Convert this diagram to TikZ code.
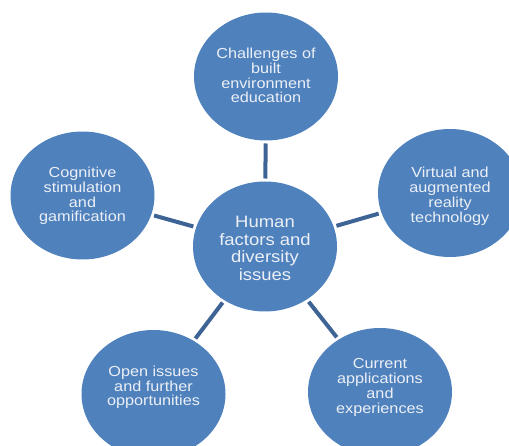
\documentclass[tikz,border=0pt]{standalone}
\usepackage{fontspec}
\setmainfont{Liberation Sans}
\usetikzlibrary{shapes.geometric}
\definecolor{bubble}{RGB}{79,129,189}
\definecolor{link}{RGB}{61,100,148}
\definecolor{txt}{RGB}{236,240,246}
\newcommand{\outertext}[1]{\scalebox{1.12}[1]{\fontsize{14.5pt}{14.7pt}\selectfont\begin{tabular}{@{}c@{}}#1\end{tabular}}}
\newcommand{\centertext}[1]{\scalebox{1.12}[1]{\fontsize{16.5pt}{17.5pt}\selectfont\begin{tabular}{@{}c@{}}#1\end{tabular}}}
\tikzset{
  bubblenode/.style={ellipse, fill=bubble, draw=none, inner sep=0pt, outer sep=0pt,
    minimum width=144pt, minimum height=128pt},
  bubbletext/.style={text=txt, inner sep=0pt, align=center},
  linkline/.style={draw=link, line width=4pt, shorten >=3pt, shorten <=3pt}
}
\setlength{\tabcolsep}{0pt}
\begin{document}
\begin{tikzpicture}[x=1pt,y=1pt]
\useasboundingbox (0,0) rectangle (509,445);
\node[bubblenode, minimum height=130pt,
  label={[bubbletext, yshift=-4pt]center:{\centertext{Human\\factors and\\diversity\\issues}}}] (hub) at (265,198.5) {};
\node[bubblenode,
  label={[bubbletext, yshift=-1pt]center:{\outertext{Challenges of\\built\\environment\\education}}}] (top) at (266,368.5) {};
\node[bubblenode,
  label={[bubbletext, yshift=-1pt]center:{\outertext{Cognitive\\stimulation\\and\\gamification}}}] (left) at (82.5,249.5) {};
\node[bubblenode,
  label={[bubbletext, yshift=-4pt]center:{\outertext{Virtual and\\augmented\\reality\\technology}}}] (right) at (450,252) {};
\node[bubblenode,
  label={[bubbletext, yshift=6pt]center:{\outertext{Open issues\\and further\\opportunities}}}] (bl) at (153.5,51) {};
\node[bubblenode,
  label={[bubbletext, yshift=4pt]center:{\outertext{Current\\applications\\and\\experiences}}}] (br) at (380,53) {};
\draw[linkline] (hub) -- (top);
\draw[linkline] (hub) -- (left);
\draw[linkline] (hub) -- (right);
\draw[linkline] (hub) -- (bl);
\draw[linkline] (hub) -- (br);
\end{tikzpicture}
\end{document}
